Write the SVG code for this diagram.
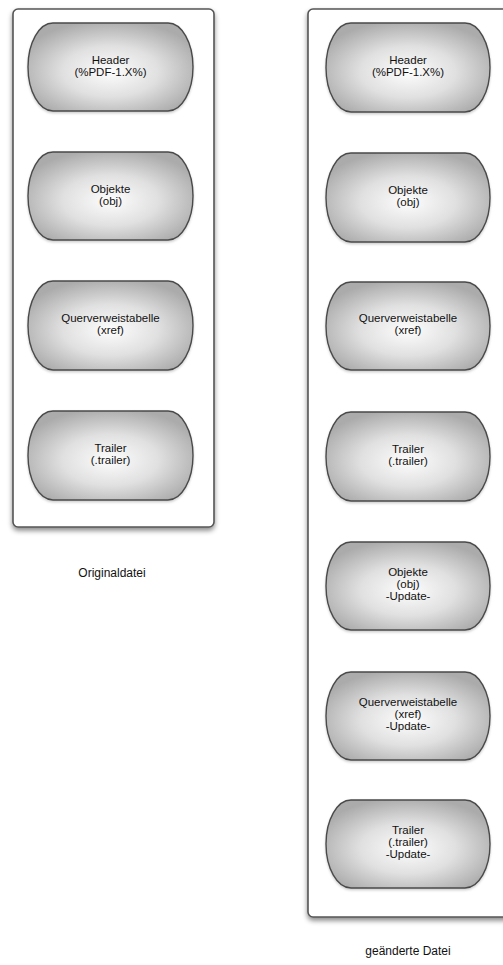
<svg xmlns="http://www.w3.org/2000/svg" width="503" height="965" viewBox="0 0 503 965">
<defs>
<radialGradient id="g" cx="50%" cy="55%" r="58%">
<stop offset="0" stop-color="#fdfdfd"/>
<stop offset="0.5" stop-color="#e0e0e0"/>
<stop offset="1" stop-color="#ababab"/>
</radialGradient>
<filter id="sh" x="-10%" y="-10%" width="120%" height="125%">
<feDropShadow dx="0" dy="3" stdDeviation="2.5" flood-color="#000" flood-opacity="0.45"/>
</filter>
<filter id="nsh" x="-10%" y="-10%" width="120%" height="130%">
<feDropShadow dx="0" dy="1.5" stdDeviation="1.2" flood-color="#000" flood-opacity="0.2"/>
</filter>
</defs>
<style>
.box{fill:#fff;stroke:#555;stroke-width:1.6;filter:url(#sh)}
.node rect{fill:url(#g);stroke:#4a4a4a;stroke-width:1.4;filter:url(#nsh)}
.node text,.cap{font-family:"Liberation Sans",Arial,sans-serif;font-size:11.5px;fill:#111;text-anchor:middle}
.cap{font-size:12px}
</style>
<rect width="503" height="965" fill="#fff"/>
<g id="original">
<rect class="box" x="13" y="9" width="201" height="518" rx="5"/>
</g>
<g id="changed">
<rect class="box" x="308" y="9" width="205" height="908" rx="5"/>
</g>
<g id="connectors"/>
<g id="l-header" class="node"><rect x="28" y="23" width="165" height="88" rx="25" ry="44"/><text x="110.5" y="64">Header</text><text x="110.5" y="76">(%PDF-1.X%)</text></g>
<g id="l-obj" class="node"><rect x="28" y="152" width="165" height="88" rx="25" ry="44"/><text x="110.5" y="193">Objekte</text><text x="110.5" y="205">(obj)</text></g>
<g id="l-xref" class="node"><rect x="28" y="281" width="165" height="89" rx="25" ry="44.5"/><text x="110.5" y="322">Querverweistabelle</text><text x="110.5" y="334">(xref)</text></g>
<g id="l-trailer" class="node"><rect x="28" y="411" width="165" height="89" rx="25" ry="44.5"/><text x="110.5" y="452">Trailer</text><text x="110.5" y="464">(.trailer)</text></g>
<text class="cap" x="112" y="577">Originaldatei</text>
<g id="r-header" class="node"><rect x="326" y="23" width="164" height="89" rx="25" ry="44.5"/><text x="408" y="64">Header</text><text x="408" y="76">(%PDF-1.X%)</text></g>
<g id="r-obj" class="node"><rect x="326" y="153" width="164" height="89" rx="25" ry="44.5"/><text x="408" y="194">Objekte</text><text x="408" y="206">(obj)</text></g>
<g id="r-xref" class="node"><rect x="326" y="282" width="164" height="88" rx="25" ry="44"/><text x="408" y="322">Querverweistabelle</text><text x="408" y="334">(xref)</text></g>
<g id="r-trailer" class="node"><rect x="326" y="412" width="164" height="89" rx="25" ry="44.5"/><text x="408" y="453">Trailer</text><text x="408" y="465">(.trailer)</text></g>
<g id="r-obj-upd" class="node"><rect x="326" y="542" width="164" height="88" rx="25" ry="44"/><text x="408" y="576">Objekte</text><text x="408" y="588">(obj)</text><text x="408" y="600">-Update-</text></g>
<g id="r-xref-upd" class="node"><rect x="326" y="672" width="164" height="88" rx="25" ry="44"/><text x="408" y="706">Querverweistabelle</text><text x="408" y="718">(xref)</text><text x="408" y="730">-Update-</text></g>
<g id="r-trailer-upd" class="node"><rect x="326" y="800" width="164" height="88" rx="25" ry="44"/><text x="408" y="834">Trailer</text><text x="408" y="846">(.trailer)</text><text x="408" y="858">-Update-</text></g>
<text class="cap" x="408" y="955">geänderte Datei</text>
</svg>
